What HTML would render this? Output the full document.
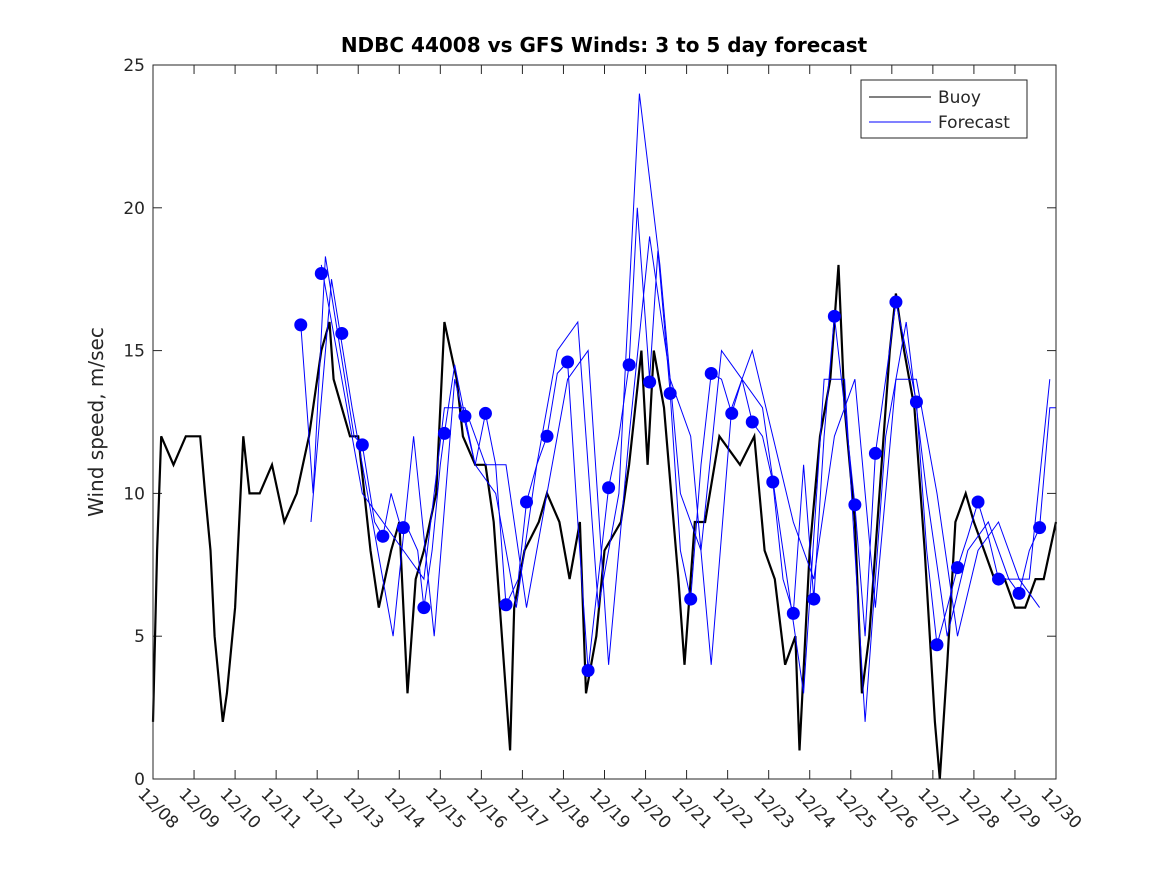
<!DOCTYPE html>
<html><head><meta charset="utf-8">
<style>
html,body{margin:0;padding:0;background:#fff;}
svg text{font-family:"DejaVu Sans","Liberation Sans",sans-serif;fill:#262626;}
</style></head>
<body>
<svg id="chart" width="1167" height="875" viewBox="0 0 1167 875" xmlns="http://www.w3.org/2000/svg">
<rect width="1167" height="875" fill="#fff"/>
<text x="604" y="52" text-anchor="middle" font-size="20" font-weight="bold" style="fill:#000">NDBC 44008 vs GFS Winds: 3 to 5 day forecast</text>
<text transform="translate(103,422) rotate(-90)" text-anchor="middle" font-size="20">Wind speed, m/sec</text>
<g id="plot"></g>
<rect x="153" y="65" width="903" height="714" fill="none" stroke="#262626" stroke-width="1"/>
<g>
<rect x="861" y="80" width="166" height="58" fill="#fff" stroke="#262626" stroke-width="1"/>
<line x1="869" y1="97" x2="931" y2="97" stroke="#000"/>
<text x="938" y="103" font-size="17">Buoy</text>
<line x1="869" y1="122" x2="931" y2="122" stroke="#0000ff"/>
<text x="938" y="128" font-size="17">Forecast</text>
</g>
</svg>
<script>
const xTickLabels=["12/08","12/09","12/10","12/11","12/12","12/13","12/14","12/15","12/16","12/17","12/18","12/19","12/20","12/21","12/22","12/23","12/24","12/25","12/26","12/27","12/28","12/29","12/30"];
const yTicks=[0,5,10,15,20,25];
const buoyDays=[0,0.1,0.2,0.5,0.8,1.0,1.15,1.27,1.4,1.5,1.7,1.8,2.0,2.1,2.2,2.35,2.6,2.9,3.2,3.5,3.8,4.1,4.3,4.4,4.8,5.0,5.3,5.5,5.8,6.0,6.2,6.4,6.6,6.9,7.1,7.4,7.55,7.85,8.1,8.3,8.6,8.7,8.8,9.05,9.4,9.6,9.9,10.15,10.4,10.55,10.8,11.0,11.4,11.6,11.9,12.05,12.2,12.45,12.8,12.95,13.2,13.45,13.8,14.3,14.65,14.9,15.15,15.4,15.65,15.75,16.0,16.25,16.5,16.7,16.85,17.1,17.27,17.45,17.7,17.95,18.1,18.3,18.55,18.8,19.05,19.17,19.35,19.55,19.8,20.0,20.25,20.5,20.75,21.0,21.25,21.5,21.7,22.0];
const buoyVals=[2,8,12,11,12,12,12,10,8,5,2,3,6,9,12,10,10,11,9,10,12,15,16,14,12,12,8,6,8,9,3,7,8,10,16,14,12,11,11,9,3,1,6,8,9,10,9,7,9,3,5,8,9,11,15,11,15,13,7,4,9,9,12,11,12,8,7,4,5,1,8,12,14,18,13,9,3,5,10,15,17,15,13,8,2,0,4,9,10,9,8,7,7,6,6,7,7,9];
const dotStart=3.6, dotStep=0.5;
const dots=[15.9,17.7,15.6,11.7,8.5,8.8,6.0,12.1,12.7,12.8,6.1,9.7,12.0,14.6,3.8,10.2,14.5,13.9,13.5,6.3,14.2,12.8,12.5,10.4,5.8,6.3,16.2,9.6,11.4,16.7,13.2,4.7,7.4,9.7,7.0,6.5,8.8];
const runADays=[3.6,3.9,4.2,4.5,4.9,5.1,5.4,5.6,5.8,6.0,6.2,6.45,6.6,6.8,7.0,7.1,7.35,7.6,7.85,8.1,8.35,8.6,8.9,9.1,9.35,9.6,9.85,10.1,10.35,10.6,10.85,11.1,11.35,11.6,11.8,12.1,12.3,12.6,12.85,13.1,13.35,13.6,13.85,14.1,14.35,14.6,14.85,15.1,15.35,15.6,15.85,16.1,16.35,16.6,16.85,17.1,17.35,17.6,17.85,18.1,18.35,18.6,18.85,19.1,19.35,19.6,19.85,20.1,20.35,20.6,20.85,21.1,21.35,21.6,21.85,22.0];
const runAVals=[15.9,10,18.3,15.6,12,11.7,9,8.5,10,9,8.8,8,6,8,11,12.1,14.5,12.7,11,12.8,11,6.1,7,9.7,11,12,14.2,14.6,9,3.8,7,10.2,12,14.5,20,14,18.5,13.5,8,6.3,11,14.2,14,12.8,14,12.5,12,10.4,7,5.8,11,6.3,12,16.2,13,9.6,5,11.4,14,16.7,15,13.2,8,4.7,6,7.4,8.5,9.7,8.5,7.0,7,6.5,8,8.8,13,13];
const run2Start=3.85, run2Step=0.5;
const run2=[9,17.5,13,9,5,12,5,14,11,10,6,11,15,16,6,10,24,18,10,8,15,14,13,8,3,14,14,2,12,16,10,5,8,9,7,7,14];
const run3Start=4.1, run3Step=0.5;
const run3=[18,14,10,9,8,7,13,13,11,11,6,10,14,15,4,12,19,14,12,4,13,15,12,9,7,12,14,6,14,14,10,5,8,9,7,6];

const X0=153,X1=1056,Y0=779,Y1=65,DAYS=22,YMAX=25;
const xs=d=>X0+(X1-X0)*d/DAYS;
const ys=v=>Y0-(Y0-Y1)*v/YMAX;
const NS="http://www.w3.org/2000/svg";
const svg=document.getElementById('chart');
const plot=document.getElementById('plot');
function mk(tag,attrs,parent){const e=document.createElementNS(NS,tag);for(const k in attrs)e.setAttribute(k,attrs[k]);(parent||plot).appendChild(e);return e;}
function pts(days,vals){return vals.map((v,i)=>`${xs(days[i]).toFixed(1)},${ys(v).toFixed(1)}`).join(' ');}
function reg(start,step,vals){return vals.map((v,i)=>`${xs(start+i*step).toFixed(1)},${ys(v).toFixed(1)}`).join(' ');}

xTickLabels.forEach((lab,i)=>{
  const x=xs(i);
  const t=mk('line',{x1:x,y1:Y0,x2:x,y2:Y0-9,stroke:'#262626'});
  
  
  const t2=mk('line',{x1:x,y1:Y1,x2:x,y2:Y1+9,stroke:'#262626'});
  
  
  const tx=mk('text',{transform:`translate(${x-16},${Y0+16}) rotate(45)`,'font-size':17},svg);
  tx.textContent=lab;
  
  
});
yTicks.forEach(v=>{
  const y=ys(v);
  const t=mk('line',{x1:X0,y1:y,x2:X0+9,y2:y,stroke:'#262626'});
  
  
  const t2=mk('line',{x1:X1,y1:y,x2:X1-9,y2:y,stroke:'#262626'});
  
  
  const tx=mk('text',{x:X0-8,y:y+6,'text-anchor':'end','font-size':17},svg);
  tx.textContent=v;
  
  
});

const bl=mk('polyline',{points:pts(buoyDays,buoyVals),fill:'none',stroke:'#000','stroke-width':2.2});



const f1=mk('polyline',{points:pts(runADays,runAVals),fill:'none',stroke:'#0000ff','stroke-width':1});


const f2=mk('polyline',{points:reg(run2Start,run2Step,run2),fill:'none',stroke:'#0000ff','stroke-width':1});


const f3=mk('polyline',{points:reg(run3Start,run3Step,run3),fill:'none',stroke:'#0000ff','stroke-width':1});



dots.forEach((v,i)=>{
  const c=mk('circle',{cx:xs(dotStart+i*dotStep),cy:ys(v),r:6.5,fill:'#0000ff'});
  
  
});
</script>
</body></html>
